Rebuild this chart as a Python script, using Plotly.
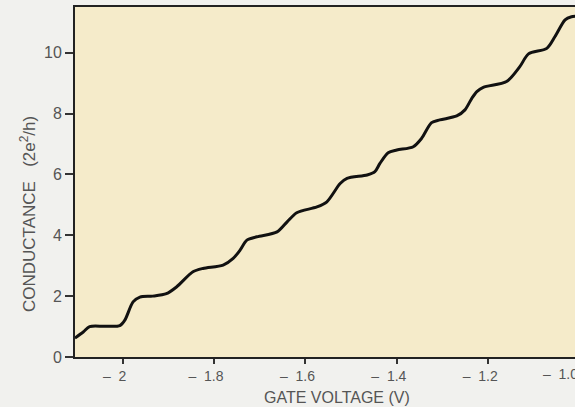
import plotly.graph_objects as go

# Gate voltage (V) and conductance (2e^2/h)
gate_voltage = [-2.104, -2.086, -2.072, -2.039, -2.006, -1.995, -1.977, -1.962, -1.934, -1.904,
                -1.882, -1.846, -1.824, -1.780, -1.758, -1.743, -1.728, -1.706, -1.662, -1.640,
                -1.619, -1.575, -1.553, -1.524, -1.509, -1.465, -1.448, -1.437, -1.419, -1.400,
                -1.364, -1.346, -1.324, -1.306, -1.269, -1.251, -1.236, -1.225, -1.211, -1.160,
                -1.131, -1.112, -1.072, -1.054, -1.032, -1.018, -1.005]
conductance = [0.62, 0.82, 1.00, 1.01, 1.03, 1.21, 1.81, 1.97, 2.00, 2.08,
               2.30, 2.80, 2.91, 3.02, 3.24, 3.51, 3.84, 3.95, 4.11, 4.44,
               4.74, 4.93, 5.10, 5.70, 5.87, 5.98, 6.09, 6.36, 6.71, 6.80,
               6.91, 7.18, 7.70, 7.79, 7.92, 8.12, 8.50, 8.72, 8.86, 9.05,
               9.54, 9.96, 10.14, 10.53, 11.08, 11.18, 11.20]

NB = "\u00a0"
DASH = "\u2013" + NB + NB
x_tickvals = [-2.0, -1.8, -1.6, -1.4, -1.2]
x_ticktext = [DASH + "2", DASH + "1.8", DASH + "1.6", DASH + "1.4", DASH + "1.2"]
y_tickvals = [0, 2, 4, 6, 8, 10]
y_ticktext = ["0", "2", "4", "6", "8", "10"]

W, H = 575, 407
ML, MR, MT, MB = 75, 0, 7, 50
x_range = [-2.104, -1.0103]
y_range = [0, 11.5]

txt = "#555555"
font_family = "Liberation Sans, Arial, sans-serif"

fig = go.Figure()
fig.add_trace(go.Scatter(
    x=gate_voltage, y=conductance, mode="lines",
    line=dict(color="#111111", width=3, shape="spline", smoothing=0.8),
    showlegend=False, hoverinfo="skip", cliponaxis=False,
))

pw = W - ML - MR
ph = H - MT - MB

fig.update_layout(
    width=W, height=H,
    margin=dict(l=ML, r=MR, t=MT, b=MB, pad=0),
    paper_bgcolor="#f1f1ee",
    plot_bgcolor="#f5ebca",
    font=dict(family=font_family, color=txt, size=14),
    xaxis=dict(range=x_range, tickvals=x_tickvals, ticktext=x_ticktext,
               showgrid=False, zeroline=False, showline=True, linecolor="#222222",
               linewidth=2, mirror=True, ticks="outside", ticklen=5, tickwidth=2,
               tickcolor="#333333", tickfont=dict(size=14, color=txt),
               ticklabelshift=-8),
    yaxis=dict(range=y_range, tickvals=y_tickvals, ticktext=y_ticktext,
               showgrid=False, zeroline=False, showline=True, linecolor="#222222",
               linewidth=2, ticks="outside", ticklen=8, tickwidth=1.5,
               tickcolor="#333333", tickfont=dict(size=16, color=txt)),
    annotations=[
        dict(text=DASH + "1.0", xref="paper", yref="paper",
             x=(560 - ML) / pw, y=0, yshift=-7,
             xanchor="center", yanchor="top", showarrow=False,
             font=dict(size=14, color=txt)),
        dict(text="GATE VOLTAGE (V)", xref="paper", yref="paper",
             x=(337 - ML) / pw, y=0, yshift=-30,
             xanchor="center", yanchor="top", showarrow=False,
             font=dict(size=16, color=txt)),
        dict(text="CONDUCTANCE" + NB + NB + NB + "(2e<sup>2</sup>/h)", xref="paper", yref="paper",
             x=0, xshift=-(ML - 28), y=(H - MB - 214) / ph,
             xanchor="center", yanchor="middle", textangle=-90, showarrow=False,
             font=dict(size=17, color=txt)),
    ],
)

fig.write_html("out.html")
